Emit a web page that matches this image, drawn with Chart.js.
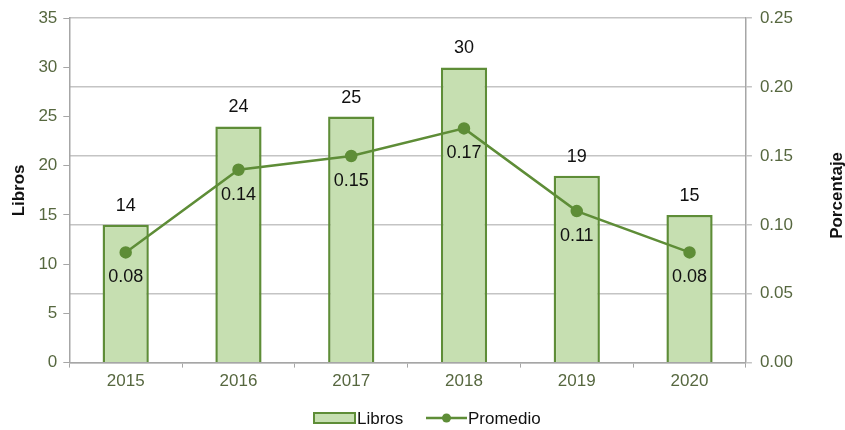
<!DOCTYPE html>
<html>
<head>
<meta charset="utf-8">
<script src="https://cdn.jsdelivr.net/npm/chart.js@4.4.1/dist/chart.umd.min.js"></script>
<style>
  html, body { margin: 0; padding: 0; background: #fff; }
  #wrap { width: 845px; height: 430px; position: relative; }
</style>
</head>
<body>
<div id="wrap"><canvas id="c"></canvas></div>
<script>
// Books published per year and the average percentage
const years = ['2015', '2016', '2017', '2018', '2019', '2020'];
const libros = [14, 24, 25, 30, 19, 15];
const promedio = [0.08, 0.14, 0.15, 0.17, 0.11, 0.08];
const leftTicks = [0, 5, 10, 15, 20, 25, 30, 35];
const rightTicks = [0, 0.05, 0.10, 0.15, 0.20, 0.25];
const rightTitle = 'Porcentaje';

const GREEN_FILL = '#c6dfb1';
const GREEN_LINE = '#5e8d37';
const TICK_COLOR = '#56673f';
const AXIS_GRAY = '#a6a6a6';
const FONT = "'Liberation Sans', Arial, sans-serif";

// Value labels: above bars, below line points
const valueLabels = {
  id: 'valueLabels',
  afterDatasetsDraw(chart) {
    const ctx = chart.ctx;
    ctx.save();
    ctx.font = '18px ' + FONT;
    ctx.fillStyle = '#111';
    ctx.textAlign = 'center';
    ctx.textBaseline = 'middle';
    chart.getDatasetMeta(0).data.forEach((bar, i) => {
      ctx.fillText(String(libros[i]), bar.x, bar.y - 19);
    });
    chart.getDatasetMeta(1).data.forEach((pt, i) => {
      ctx.fillText(promedio[i].toFixed(2), pt.x, pt.y + 25);
    });
    ctx.restore();
  }
};

// Right-hand axis title, reading bottom to top
const rightAxisTitle = {
  id: 'rightAxisTitle',
  afterDraw(chart) {
    const ctx = chart.ctx;
    const area = chart.chartArea;
    ctx.save();
    ctx.translate(837, (area.top + area.bottom) / 2 + 5);
    ctx.rotate(-Math.PI / 2);
    ctx.font = 'bold 17px ' + FONT;
    ctx.fillStyle = '#111';
    ctx.textAlign = 'center';
    ctx.textBaseline = 'middle';
    ctx.fillText(rightTitle, 0, 0);
    ctx.restore();
  }
};

// Legend below the axis: box for the bars, line with marker for the series
const customLegend = {
  id: 'customLegend',
  afterDraw(chart) {
    const ctx = chart.ctx;
    const y = 418;
    ctx.save();
    ctx.font = '17px ' + FONT;
    ctx.textBaseline = 'middle';
    ctx.textAlign = 'left';
    ctx.fillStyle = GREEN_FILL;
    ctx.strokeStyle = GREEN_LINE;
    ctx.lineWidth = 2;
    ctx.fillRect(314, y - 5, 41, 10);
    ctx.strokeRect(314, y - 5, 41, 10);
    ctx.fillStyle = '#111';
    ctx.fillText(chart.data.datasets[0].label, 357, y + 1);
    ctx.beginPath();
    ctx.moveTo(426, y);
    ctx.lineTo(467, y);
    ctx.strokeStyle = GREEN_LINE;
    ctx.lineWidth = 2.5;
    ctx.stroke();
    ctx.beginPath();
    ctx.arc(446.5, y, 4.5, 0, Math.PI * 2);
    ctx.fillStyle = GREEN_LINE;
    ctx.fill();
    ctx.fillStyle = '#111';
    ctx.fillText(chart.data.datasets[1].label, 468, y + 1);
    ctx.restore();
  }
};

new Chart(document.getElementById('c'), {
  data: {
    labels: years,
    datasets: [
      {
        type: 'bar',
        label: 'Libros',
        data: libros,
        yAxisID: 'y',
        backgroundColor: GREEN_FILL,
        borderColor: GREEN_LINE,
        borderWidth: 2.5,
        categoryPercentage: 1.0,
        barPercentage: 0.41,
        order: 2
      },
      {
        type: 'line',
        label: 'Promedio',
        data: promedio,
        yAxisID: 'y1',
        borderColor: GREEN_LINE,
        backgroundColor: GREEN_LINE,
        borderWidth: 2.5,
        pointRadius: 5,
        pointHoverRadius: 5,
        tension: 0,
        order: 1
      }
    ]
  },
  options: {
    responsive: true,
    maintainAspectRatio: false,
    animation: false,
    layout: { padding: { top: 8, left: 3, right: 44, bottom: 34 } },
    plugins: {
      legend: { display: false },
      tooltip: { enabled: false }
    },
    scales: {
      x: {
        offset: true,
        grid: {
          offset: true,
          drawOnChartArea: false,
          drawTicks: true,
          tickLength: 5,
          color: AXIS_GRAY
        },
        border: { display: true, color: AXIS_GRAY, width: 1.5 },
        ticks: {
          color: TICK_COLOR,
          font: { family: FONT, size: 17 },
          padding: 4
        }
      },
      y: {
        position: 'left',
        min: 0,
        max: 35,
        afterBuildTicks(axis) { axis.ticks = leftTicks.map(v => ({ value: v })); },
        grid: {
          drawOnChartArea: false,
          drawTicks: true,
          tickLength: 6,
          color: AXIS_GRAY
        },
        border: { display: true, color: AXIS_GRAY, width: 1.5 },
        ticks: {
          color: TICK_COLOR,
          font: { family: FONT, size: 17 },
          padding: 6
        },
        title: {
          display: true,
          text: 'Libros',
          color: '#111',
          font: { family: FONT, size: 17, weight: 'bold' },
          padding: { top: 6, bottom: 3 }
        }
      },
      y1: {
        position: 'right',
        min: 0,
        max: 0.25,
        afterBuildTicks(axis) { axis.ticks = rightTicks.map(v => ({ value: v })); },
        grid: {
          drawOnChartArea: true,
          drawTicks: true,
          tickLength: 6,
          color: '#c4c4c4',
          lineWidth: 1.5
        },
        border: { display: true, color: AXIS_GRAY, width: 1.5 },
        ticks: {
          color: TICK_COLOR,
          font: { family: FONT, size: 17 },
          padding: 8,
          callback: v => Number(v).toFixed(2)
        }
      }
    }
  },
  plugins: [valueLabels, rightAxisTitle, customLegend]
});
</script>
</body>
</html>
